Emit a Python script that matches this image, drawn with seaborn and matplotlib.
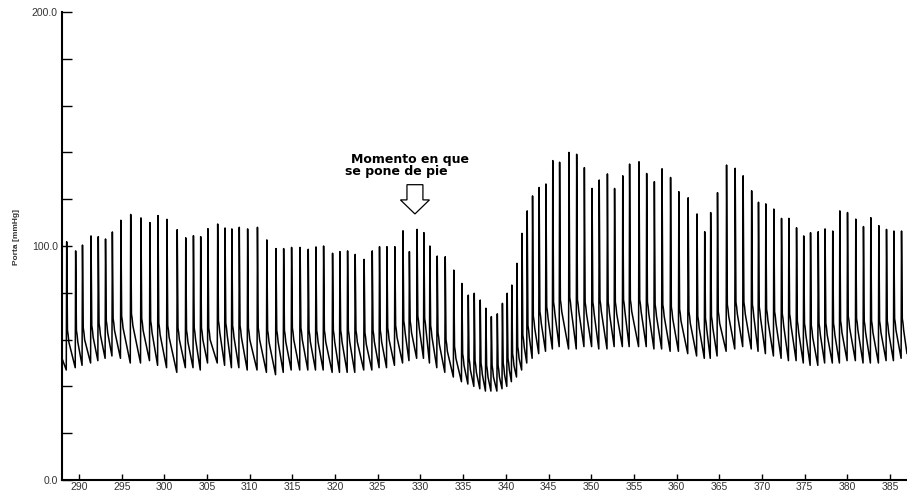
import numpy as np
import pandas as pd
import matplotlib
matplotlib.use("Agg")
import matplotlib.pyplot as plt
from matplotlib.patches import FancyArrow
import seaborn as sns

# ---------------- data ----------------
beat_time = [288.55, 289.6, 290.4, 291.4, 292.25, 293.1, 293.9, 294.9, 296.05, 297.25,
             298.3, 299.25, 300.3, 301.5, 302.5, 303.4, 304.25, 305.1, 306.24, 307.1,
             307.9, 308.77, 309.75, 310.9, 312.0, 313.07, 313.97, 314.9, 315.9, 316.85,
             317.75, 318.65, 319.7, 320.56, 321.46, 322.35, 323.4, 324.35, 325.2, 326.07,
             327.0, 327.95, 328.7, 329.6, 330.4, 331.1, 331.96, 332.9, 333.9, 334.85,
             335.6, 336.3, 337.0, 337.66, 338.3, 339.0, 339.6, 340.16, 340.7, 341.3,
             341.9, 342.5, 343.13, 343.9, 344.7, 345.5, 346.3, 347.4, 348.3, 349.2,
             350.1, 350.94, 351.9, 352.74, 353.7, 354.5, 355.6, 356.5, 357.4, 358.3,
             359.3, 360.27, 361.36, 362.4, 363.3, 364.0, 364.8, 365.86, 366.87, 367.8,
             368.8, 369.6, 370.46, 371.4, 372.3, 373.16, 374.06, 374.9, 375.7, 376.6,
             377.4, 378.3, 379.13, 380.03, 381.0, 381.9, 382.76, 383.7, 384.6, 385.46,
             386.36]

beat_peak = [101.8, 97.9, 100.4, 104.3, 104.0, 103.0, 106.0, 111.0, 113.5, 112.0,
             110.0, 113.0, 111.4, 107.0, 103.5, 104.4, 104.0, 107.4, 109.4, 107.7,
             107.3, 108.0, 107.3, 108.0, 102.6, 98.9, 98.9, 99.4, 99.4, 98.6,
             99.6, 100.0, 96.9, 97.6, 97.9, 96.4, 94.3, 97.9, 99.7, 99.7,
             99.7, 106.5, 97.6, 107.1, 105.7, 100.0, 95.7, 95.4, 89.7, 84.0,
             79.0, 79.8, 76.9, 73.4, 69.8, 71.0, 75.5, 79.8, 83.3, 92.6,
             105.4, 115.0, 121.4, 125.0, 126.5, 136.5, 135.8, 140.0, 139.2, 133.5,
             124.6, 128.2, 130.8, 124.6, 130.0, 135.0, 136.0, 131.0, 127.5, 133.0,
             129.3, 123.2, 120.6, 113.7, 106.1, 114.3, 122.8, 134.6, 133.2, 130.0,
             123.6, 118.7, 118.0, 115.8, 111.8, 111.8, 107.8, 104.3, 105.7, 106.1,
             107.3, 106.4, 115.0, 114.3, 111.5, 108.3, 112.1, 108.7, 107.1, 106.4,
             106.4]

# level of the pressure wave right after each spike
beat_notch = [62, 62, 63, 64, 65, 66, 67, 68, 69, 67, 66, 65, 64, 63, 62, 63, 63, 63,
              66, 65, 64, 64, 63, 63, 62, 62, 62, 63, 63, 62, 62, 62, 62, 62, 62, 62,
              61, 62, 62, 63, 64, 66, 66, 68, 67, 64, 61, 58,
              55, 52, 50, 49, 48, 47, 47, 47, 48, 50, 52, 55,
              60, 64, 68, 70, 72, 74, 75, 76, 75, 74, 74, 75, 74, 74, 75, 75, 75,
              74, 73, 73, 72, 71, 70, 68, 67, 68, 70, 73, 74, 74, 73, 72, 71, 70, 69, 69,
              66, 65, 64, 65, 65, 65, 66, 68, 67, 66, 66, 66, 66, 67, 67]

# minimum of the wave just before each beat
beat_trough = [47, 48, 49, 50, 51, 52, 53, 52, 50, 50, 51, 49, 48, 46, 48, 48, 47, 50,
               50, 49, 48, 48, 47, 47, 46, 45, 46, 47, 47, 47, 47, 47, 46, 46, 46, 46,
               47, 47, 48, 48, 49, 50, 51, 52, 52, 50, 48, 46,
               44, 42, 41, 40, 39, 38, 38, 38, 39, 40, 42, 44,
               47, 50, 52, 54, 55, 56, 57, 56, 56, 57, 57, 56, 56, 57, 57, 57, 57,
               57, 56, 56, 55, 55, 54, 53, 52, 52, 53, 55, 56, 57, 56, 55, 54, 53, 52, 51,
               51, 50, 49, 49, 50, 50, 50, 51, 51, 50, 50, 50, 51, 51, 52]

start_time, start_value = 288.0, 52
end_time, end_value = 387.0, 54

x_ticks = list(range(290, 386, 5))
y_major = [0, 100, 200]
y_major_labels = ["0.0", "100.0", "200.0"]
y_minor = [20, 40, 60, 80, 120, 140, 160, 180]

annot_lines = ["Momento en que", "se pone de pie"]
annot_x = [321.9, 321.1]
annot_y = [135.4, 130.3]
arrow_x, arrow_top, arrow_len = 329.35, 126.2, 12.5

# ---------------- build waveform from per-beat values ----------------
# sawtooth-like beat: fast upstroke into the spike, drop to the notch level,
# small shoulder, then a straight decay to the next beat's trough
xs, ys = [start_time], [start_value]
for t, p, n, tr in zip(beat_time, beat_peak, beat_notch, beat_trough):
    xs += [t - 0.05, t, t + 0.09, t + 0.17, t + 0.25]
    ys += [tr, p, n + 2, n, n - 3]
xs.append(end_time)
ys.append(end_value)
df = pd.DataFrame({"time": xs, "pressure": ys})

# ---------------- plotting ----------------
sns.set_theme(style="white")
plt.rcParams["font.family"] = ["Liberation Sans", "DejaVu Sans"]

fig = plt.figure(figsize=(9.07, 4.92), dpi=100)
ax = fig.add_axes([62 / 907, 12 / 492, 845 / 907, 468 / 492])

sns.lineplot(data=df, x="time", y="pressure", estimator=None, sort=False,
             color="black", linewidth=1.1, ax=ax)

ax.set_xlim(288, 387)
ax.set_ylim(0, 200)
ax.set_xticks(x_ticks)
ax.set_xticklabels([str(v) for v in x_ticks])
ax.set_yticks(y_major)
ax.set_yticklabels(y_major_labels)
ax.set_yticks(y_minor, minor=True)

ax.tick_params(axis="x", direction="in", length=4.3, width=1.0, pad=1.2,
               labelsize=7.5, colors="black", labelcolor="#333333")
ax.tick_params(axis="y", which="both", direction="in", length=7.2, width=1.0,
               pad=3, labelsize=7.5, colors="black", labelcolor="#333333")
ax.tick_params(axis="both", which="both", bottom=True, left=True)

for s in ["top", "right"]:
    ax.spines[s].set_visible(False)
for s in ["left", "bottom"]:
    ax.spines[s].set_color("black")
    ax.spines[s].set_linewidth(1.5)

ax.set_xlabel("")
ax.set_ylabel("")
ax.grid(False)

fig.text(17 / 907, 1 - 237 / 492, "Porta [mmHg]", rotation=90, ha="center",
         va="center", fontsize=6, fontweight="bold", color="#333333")

for txt, tx, ty in zip(annot_lines, annot_x, annot_y):
    ax.text(tx, ty, txt, fontsize=9, fontweight="bold", color="black",
            ha="left", va="baseline", family=["DejaVu Sans"])

arrow = FancyArrow(arrow_x, arrow_top, 0, -arrow_len, width=1.87, head_width=3.4,
                   head_length=6.0, length_includes_head=True, facecolor="white",
                   edgecolor="black", linewidth=0.9)
ax.add_patch(arrow)

fig.savefig("out.png", dpi=100)
